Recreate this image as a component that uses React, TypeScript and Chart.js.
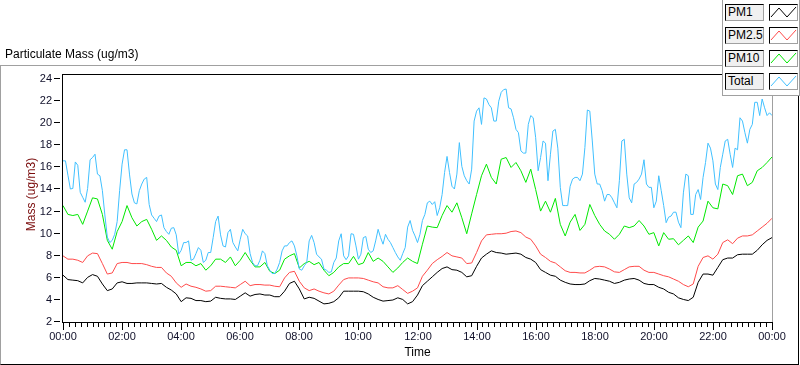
import React, { useEffect, useRef } from 'react';
import { Chart, registerables } from 'chart.js';

Chart.register(...registerables);

// sample spacing, minutes from 00:00
const stepMinutes = 10;
const totalStepMinutes = 5;

const pm1 = [
  6.15, 5.75, 5.7, 5.65, 5.45, 5.95, 6.2, 6.05, 5.35, 4.75, 4.9, 5.45, 5.55, 5.4, 5.4, 5.45, 5.45, 5.45, 5.4, 5.35, 5.4, 5.05, 4.8, 4.45, 3.75, 4.1, 4.05, 3.85, 3.85,
  3.75, 3.8, 4.15, 4.05, 4.0, 4.0, 3.95, 4.25, 4.55, 4.25, 4.4, 4.45, 4.35, 4.35, 4.2, 4.2, 4.7, 5.4, 5.6, 4.9, 4.0, 4.15, 4.05, 3.8, 3.55, 3.6, 3.75, 4.1, 4.7,
  4.7, 4.7, 4.7, 4.65, 4.45, 4.15, 3.95, 3.8, 3.85, 3.9, 4.1, 3.95, 3.55, 3.75, 4.35, 5.2, 5.6, 6.0, 6.4, 6.75, 6.9, 6.65, 6.6, 6.4, 6.0, 6.1, 6.95, 7.7, 8.05,
  8.35, 8.2, 8.15, 8.05, 8.1, 8.15, 8.05, 7.75, 7.6, 7.3, 6.65, 6.4, 6.15, 6.05, 5.7, 5.5, 5.35, 5.3, 5.3, 5.35, 5.65, 5.85, 5.8, 5.7, 5.6, 5.4, 5.5, 5.7, 5.8,
  5.85, 5.7, 5.4, 5.3, 5.3, 5.05, 4.9, 4.6, 4.45, 4.1, 3.95, 3.85, 4.15, 5.5, 6.25, 6.25, 6.15, 6.85, 7.55, 7.7, 7.7, 8.0, 8.05, 8.05, 8.05, 8.4, 8.9, 9.3, 9.55,
];

const pm25 = [
  7.9, 7.6, 7.6, 7.5, 7.3, 7.9, 8.15, 8.1, 7.2, 6.25, 6.35, 7.2, 7.3, 7.3, 7.2, 7.2, 7.2, 7.1, 6.95, 6.85, 6.85, 6.35, 6.05, 5.45, 5.05, 5.35, 5.15, 5.05, 4.9,
  4.7, 4.75, 5.15, 5.15, 5.1, 5.05, 5.0, 5.3, 5.6, 5.2, 5.3, 5.3, 5.25, 5.25, 5.15, 5.1, 5.9, 6.4, 6.5, 5.6, 5.0, 4.75, 4.9, 4.7, 4.55, 4.45, 4.7, 5.25, 5.75,
  5.9, 5.9, 5.9, 5.85, 5.7, 5.55, 5.45, 5.1, 5.0, 5.0, 5.2, 4.85, 4.5, 4.7, 5.0, 6.05, 6.6, 7.2, 7.55, 7.85, 8.2, 7.9, 7.8, 7.7, 7.2, 7.25, 8.2, 9.25, 9.8,
  9.85, 9.9, 9.9, 9.95, 10.1, 10.15, 10.0, 9.6, 9.4, 8.8, 8.05, 7.75, 7.4, 7.25, 6.9, 6.55, 6.4, 6.4, 6.35, 6.35, 6.6, 6.9, 6.95, 6.9, 6.7, 6.45, 6.4, 6.65, 6.9,
  6.95, 6.95, 6.6, 6.4, 6.4, 6.25, 6.1, 6.0, 5.8, 5.6, 5.3, 5.1, 5.35, 6.95, 7.75, 7.9, 7.6, 8.05, 9.1, 9.35, 9.0, 9.5, 9.7, 9.7, 9.8, 10.15, 10.5, 10.85, 11.3,
];

const pm10 = [
  12.45, 11.65, 11.55, 11.65, 10.75, 11.95, 13.15, 13.05, 11.65, 9.3, 8.5, 10.1, 11.0, 12.45, 11.35, 10.6, 11.0, 11.2, 10.3, 9.3, 9.7, 9.3, 8.7, 8.4, 7.0, 7.3, 7.3, 7.0, 7.2,
  6.6, 7.0, 7.6, 7.6, 7.3, 7.8, 7.0, 7.5, 8.2, 7.5, 6.9, 6.9, 7.3, 6.5, 6.3, 6.6, 7.6, 7.9, 8.1, 6.8, 7.2, 7.4, 7.1, 7.3, 6.6, 6.1, 6.4, 6.9, 7.2,
  7.2, 7.85, 7.1, 7.25, 8.2, 7.4, 7.7, 7.4, 6.9, 6.4, 6.8, 7.3, 7.7, 7.4, 7.2, 8.95, 10.6, 10.5, 10.45, 11.55, 12.45, 11.85, 12.7, 11.35, 9.9, 11.7, 13.45, 15.15, 16.2,
  15.0, 14.4, 16.65, 16.8, 15.9, 16.35, 15.6, 14.55, 15.75, 13.9, 11.95, 12.85, 11.85, 13.1, 10.75, 9.7, 10.95, 11.65, 10.2, 10.75, 12.55, 11.55, 10.75, 10.15, 9.85, 9.4, 9.85, 10.6, 10.45,
  10.6, 11.1, 10.6, 9.85, 10.0, 8.8, 10.0, 9.4, 9.45, 8.9, 9.3, 9.7, 9.1, 10.5, 11.05, 12.85, 12.25, 12.15, 14.4, 14.25, 13.45, 15.15, 15.3, 14.25, 14.55, 15.6, 15.9, 16.35, 16.85,
];

const total = [
  16.5, 16.5, 15.2, 13.95, 14.0, 16.4, 16.1, 13.65, 13.2, 12.75, 14.0, 16.6, 16.8, 17.1, 15.3, 15.15, 13.8, 11.6, 9.6, 9.1, 9.3, 9.85, 11.0, 13.8,
  16.2, 17.5, 17.5, 15.3, 13.5, 12.7, 12.6, 13.8, 14.4, 14.85, 15.0, 12.55, 11.6, 11.3, 11.0, 11.5, 11.6, 10.45, 10.1, 9.85, 10.4, 10.45, 9.8, 8.05,
  8.4, 9.1, 9.1, 9.25, 7.5, 7.6, 8.1, 8.65, 8.4, 7.3,
  7.5, 8.2, 8.2, 9.55, 11.0, 11.5, 9.8, 8.8, 8.7, 10.0, 10.3, 9.1, 8.7, 8.35, 9.4, 10.3, 9.9, 9.7, 8.1, 7.3, 7.0, 7.0, 7.5, 8.35,
  8.1, 7.0, 6.6, 6.3, 6.3, 6.7, 7.3, 8.35, 8.8, 8.8, 9.1, 9.25, 8.8, 7.9, 6.7, 6.6, 7.0, 7.3, 9.25, 9.75, 9.1, 8.05, 7.8, 7.6,
  6.7, 6.6, 6.4, 6.45, 7.3, 7.7, 9.25, 9.9, 7.9, 7.55,
  7.9, 9.9, 9.85, 8.8, 7.6, 8.05, 9.55, 9.65, 8.5, 8.2, 8.35, 9.25, 10.3, 9.55, 8.95, 9.85, 9.4, 9.1, 8.65, 8.2, 7.8, 7.5, 8.1, 8.65,
  10.5, 11.1, 10.2, 9.7, 9.1, 9.85, 11.1, 11.65, 12.7, 12.85, 12.55, 12.8, 11.55, 12.25, 13.45, 15.45, 16.9, 15.45, 14.2, 13.95, 15.3, 18.15, 16.0, 15.15,
  14.7, 14.4, 15.75, 20.1, 21.0, 21.3, 19.8, 22.2, 22.1,
  21.6, 21.3, 20.1, 20.1, 21.9, 22.7, 22.95, 23.0, 21.3, 21.2, 20.4, 19.35, 19.05, 17.4, 17.2, 17.2, 19.8, 20.6, 20.4, 18.6, 15.6, 16.8, 18.3, 18.1,
  14.7, 17.1, 19.2, 19.35, 17.65, 14.1, 12.45, 12.45, 12.45, 14.2, 14.85, 15.0, 15.0, 14.7, 15.3, 17.7, 21.1, 21.0, 18.3, 15.3, 14.4, 14.4, 13.8, 12.85,
  13.45, 13.45, 13.15, 12.7, 12.25, 14.7, 18.3, 18.45, 15.3, 13.15,
  12.7, 14.4, 14.55, 14.85, 15.3, 16.6, 14.4, 14.1, 14.1, 12.25, 12.85, 15.15, 13.8, 12.45, 10.9, 11.4, 11.5, 11.85, 11.85, 10.95, 10.45, 13.6, 15.3, 15.15,
  11.65, 11.65, 13.45, 13.9, 13.0, 15.0, 16.35, 18.1, 17.65, 16.5, 14.4, 13.9, 15.9, 17.1, 18.3, 18.45, 17.1, 15.9, 17.65, 17.5, 20.4, 20.1, 19.05, 18.1,
  19.35, 19.8, 21.8, 21.8, 20.6, 22.1, 21.3, 20.6, 20.85, 20.6,
];

const seriesNames = ['PM1', 'PM2.5', 'PM10', 'Total'];
const seriesColors = ['#000000', '#ff4a4a', '#00e800', '#40c0ff'];
const seriesValues = [pm1, pm25, pm10, total];
const seriesSteps = [stepMinutes, stepMinutes, stepMinutes, totalStepMinutes];

const yTicks = [2, 4, 6, 8, 10, 12, 14, 16, 18, 20, 22, 24];
const xTickLabels = ['00:00', '02:00', '04:00', '06:00', '08:00', '10:00', '12:00', '14:00', '16:00', '18:00', '20:00', '22:00', '00:00'];
const xMajorMinutes = 120;
const xMinorMinutes = 12;
const xMaxMinutes = 1440;

const chartTitle = 'Particulate Mass (ug/m3)';
const yTitle = 'Mass (ug/m3)';
const xTitle = 'Time';

const FONT = '"Liberation Sans", Arial, sans-serif';
const TICK_COLOR = '#10102a';

const lvAxes = {
  id: 'lvAxes',
  afterDraw(chart: any) {
    const { ctx, chartArea: a, scales } = chart;
    const xs = scales.x;
    const ys = scales.y;
    const L = a.left - 1;
    const T = a.top - 4;
    const R = Math.round(a.right);
    const B = Math.round(a.bottom) + 1;
    ctx.save();
    // plot frame
    ctx.fillStyle = '#000';
    ctx.fillRect(L, T, 1, B - T + 1);
    ctx.fillRect(L, T, R - L + 1, 1);
    ctx.fillRect(L, B, R - L + 1, 1);
    ctx.fillStyle = '#a0a0a0';
    ctx.fillRect(R, T, 1, B - T);

    // y ticks + labels
    ctx.font = '11px ' + FONT;
    ctx.textAlign = 'right';
    ctx.textBaseline = 'middle';
    yTicks.forEach((v) => {
      const py = Math.round(ys.getPixelForValue(v));
      ctx.fillStyle = '#000';
      ctx.fillRect(L - 8, py, 6, 1);
      ctx.fillStyle = TICK_COLOR;
      ctx.fillText(String(v), L - 10, py + 0.5);
    });

    // x ticks + labels
    ctx.textAlign = 'center';
    for (let m = 0; m <= xMaxMinutes; m += xMinorMinutes) {
      const px = Math.round(xs.getPixelForValue(m));
      const major = m % xMajorMinutes === 0;
      ctx.fillStyle = '#000';
      ctx.fillRect(px, B + 1, 1, major ? 7 : 4);
      if (major) {
        ctx.fillStyle = TICK_COLOR;
        ctx.fillText(xTickLabels[m / xMajorMinutes], px, B + 15);
      }
    }

    // axis titles
    ctx.font = '12px ' + FONT;
    ctx.fillStyle = '#000';
    ctx.fillText(xTitle, (a.left + a.right) / 2, B + 31);
    ctx.translate(32, (a.top + a.bottom) / 2 - 5);
    ctx.rotate(-Math.PI / 2);
    ctx.fillStyle = '#7a0c0c';
    ctx.fillText(yTitle, 0, 0);
    ctx.restore();
  },
};

function Swatch({ color }: { color: string }) {
  return (
    <svg width="27" height="15" style={{ display: 'block' }}>
      <polyline points="1,12 9,3 17,12 26,2" fill="none" stroke={color} strokeWidth="1" />
    </svg>
  );
}

export default function App() {
  const canvasRef = useRef<HTMLCanvasElement | null>(null);

  useEffect(() => {
    document.body.style.margin = '0';
    const canvas = canvasRef.current;
    if (!canvas) return;
    const order = [3, 2, 1, 0];
    const chart = new Chart(canvas, {
      type: 'line',
      data: {
        datasets: order.map((k) => ({
          label: seriesNames[k],
          data: seriesValues[k].map((v, i) => ({ x: i * seriesSteps[k], y: v })),
          borderColor: seriesColors[k],
          backgroundColor: seriesColors[k],
          borderWidth: 1,
          pointRadius: 0,
          tension: 0,
          fill: false,
        })),
      },
      options: {
        responsive: false,
        animation: false,
        devicePixelRatio: 1,
        layout: { padding: { left: 63, top: 78, right: 28, bottom: 44 } },
        plugins: { legend: { display: false }, tooltip: { enabled: false } },
        events: [],
        scales: {
          x: { type: 'linear', min: 0, max: xMaxMinutes, display: false },
          y: { type: 'linear', min: 2, max: 24, display: false },
        },
      },
      plugins: [lvAxes],
    });
    return () => chart.destroy();
  }, []);

  return (
    <div style={{ position: 'relative', width: 800, height: 365, background: '#fff', fontFamily: FONT, overflow: 'hidden' }}>
      <div
        style={{
          position: 'absolute', left: 0, top: 65, width: 799, height: 300, boxSizing: 'border-box',
          borderTop: '1px solid #a0a0a0', borderLeft: '1px solid #a0a0a0',
          borderRight: '1px solid #000', borderBottom: '1px solid #000',
        }}
      />
      <canvas ref={canvasRef} width={800} height={365} style={{ position: 'absolute', left: 0, top: 0 }} />
      <div style={{ position: 'absolute', left: 5, top: 47, fontSize: 12, lineHeight: '14px', color: '#000', whiteSpace: 'nowrap' }}>
        {chartTitle}
      </div>
      <div
        style={{
          position: 'absolute', left: 722, top: -1, width: 78, height: 97, boxSizing: 'border-box', background: '#fff',
          borderLeft: '1px solid #a0a0a0', borderBottom: '1px solid #a0a0a0', borderRight: '1px solid #a0a0a0',
        }}
      >
        {seriesNames.map((name, k) => (
          <div key={name} style={{ position: 'absolute', left: 2, top: 5 + k * 23, width: 74, height: 17 }}>
            <div
              style={{
                position: 'absolute', left: 0, top: 0, width: 39, height: 17, boxSizing: 'border-box', background: '#f0f0f0',
                borderTop: '1px solid #000', borderLeft: '1px solid #000', borderRight: '1px solid #a0a0a0', borderBottom: '1px solid #a0a0a0',
                fontSize: 12, lineHeight: '15px', paddingLeft: 2, color: '#000', whiteSpace: 'nowrap', overflow: 'hidden',
              }}
            >
              {name}
            </div>
            <div
              style={{
                position: 'absolute', left: 44, top: 0, width: 29, height: 17, boxSizing: 'border-box', background: '#fff',
                borderTop: '1px solid #000', borderLeft: '1px solid #000', borderRight: '1px solid #a0a0a0', borderBottom: '1px solid #a0a0a0',
              }}
            >
              <Swatch color={seriesColors[k]} />
            </div>
          </div>
        ))}
      </div>
    </div>
  );
}
